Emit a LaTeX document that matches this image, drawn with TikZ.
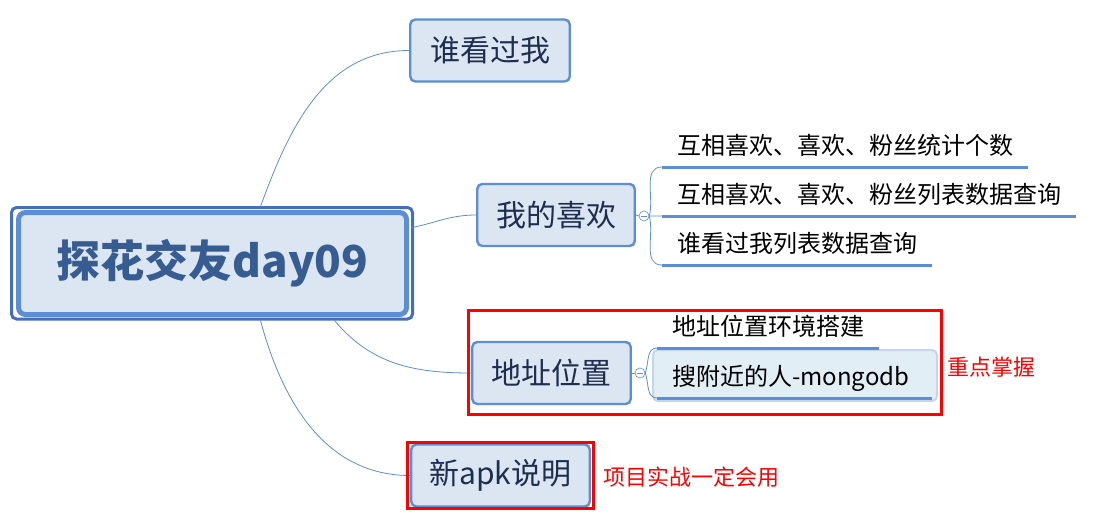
\documentclass[tikz,border=0pt]{standalone}
\usepackage{fontspec}
\setmainfont{Noto Sans CJK SC}
\usetikzlibrary{positioning}

\definecolor{mapblue}{RGB}{91,142,212}
\definecolor{framedark}{RGB}{71,110,190}
\definecolor{nodefill}{RGB}{220,230,242}
\definecolor{roottext}{RGB}{54,92,146}
\definecolor{branchtext}{RGB}{30,45,80}
\definecolor{pickfill}{RGB}{226,238,245}
\definecolor{pickedge}{RGB}{196,214,232}
\definecolor{markred}{RGB}{255,0,0}

\begin{document}
\begin{tikzpicture}[x=1pt,y=1pt,
        rootbox/.style={draw=mapblue, line width=5pt, fill=nodefill, rounded corners=7pt,
            minimum width=388pt, minimum height=102pt, outer sep=6pt,
            text=roottext, font=\fontsize{44}{50}\selectfont\bfseries},
        branch/.style={draw=mapblue, line width=2.4pt, fill=nodefill, rounded corners=5pt,
            minimum height=62pt, inner sep=0pt, outer sep=1.2pt,
            text=branchtext, font=\fontsize{30}{36}\selectfont},
        leaf/.style={anchor=south west, inner xsep=15pt, inner ysep=12pt,
            text height=18pt, text depth=0pt, font=\fontsize{24}{28}\selectfont},
        uline/.style={mapblue, line width=3pt},
        link/.style={mapblue, line width=0.8pt},
        fold/.style={circle, draw=mapblue, fill=white, line width=0.6pt, minimum size=10pt, inner sep=0pt,
            path picture={\draw[mapblue, line width=0.6pt]
                ([xshift=-3pt]path picture bounding box.center) -- ([xshift=3pt]path picture bounding box.center);}},
        pickbox/.style={draw=pickedge, fill=pickfill, line width=2pt, rounded corners=5pt, inner sep=0pt},
        redbox/.style={draw=markred, line width=3pt},
        note/.style={anchor=west, inner sep=0pt, text=markred, font=\fontsize{22}{26}\selectfont}]
    \useasboundingbox (0,0) rectangle (1113,-524);

    % central topic
    \node[rootbox] (root) at (212.5,-263.5) {探花交友day09};
    \draw[framedark, line width=3pt, rounded corners=5pt]
        ([shift={(-1pt,-1pt)}]root.north west) rectangle ([shift={(0pt,1.5pt)}]root.south east);

    % main branches
    \node[branch, minimum width=159.5pt] (seen) at (490,-50.5) {谁看过我};
    \node[branch, minimum width=157.5pt] (likes) at (556,-215) {我的喜欢};
    \node[branch, minimum width=158.5pt] (place) at (551.5,-373) {地址位置};
    \node[branch, minimum width=178.5pt] (apk) at (500.5,-475.5) {新apk说明};

    \draw[link]
        ([xshift=48pt]root.north) to[out=70,in=180] (seen.west)
        ([yshift=36pt]root.east) to[out=12,in=180] (likes.west)
        ([xshift=122pt]root.south) to[out=-50,in=180] (place.west)
        ([xshift=48pt]root.south) to[out=-75,in=180] (apk.west);

    % 我的喜欢
    \node[fold] (likesfold) at (644,-216) {};
    \node[leaf] (count) at (662,-167) {互相喜欢、喜欢、粉丝统计个数};
    \node[leaf] (list) at (662,-216) {互相喜欢、喜欢、粉丝列表数据查询};
    \node[leaf] (seenlist) at (662,-265) {谁看过我列表数据查询};
    \draw[link] (likes.east) -- (likesfold.west);
    \draw[link]
        (likesfold.east) to[out=75,in=180] (count.south west)
        (likesfold.east) -- (list.south west)
        (likesfold.east) to[out=-75,in=180] (seenlist.south west);
    \draw[uline] (count.south west) -- (count.south east);
    \draw[uline] (list.south west) -- (list.south east);
    \draw[uline] (seenlist.south west) -- (seenlist.south east);

    % 地址位置
    \node[fold] (placefold) at (640,-373) {};
    \node[pickbox, minimum width=284pt, minimum height=51pt] (pick) at (795,-375.5) {};
    \node[leaf] (setup) at (657,-348) {地址位置环境搭建};
    \node[leaf, text width=245pt, align=left] (near) at (657,-398) {搜附近的人-mongodb};
    \draw[link] (place.east) -- (placefold.west);
    \draw[link]
        (placefold.east) to[out=70,in=180] (setup.south west)
        (placefold.east) to[out=-70,in=180] (near.south west);
    \draw[uline] (setup.south west) -- (setup.south east);
    \draw[uline] (near.south west) -- (near.south east);

    % highlights
    \draw[redbox] (468.5,-310.5) rectangle (941.5,-414.5);
    \node[note] (keypoint) at (947,-367) {重点掌握};
    \draw[redbox] (407.5,-442.5) rectangle (593.5,-508.5);
    \node[note] (mustuse) at (603,-477) {项目实战一定会用};
\end{tikzpicture}
\end{document}
